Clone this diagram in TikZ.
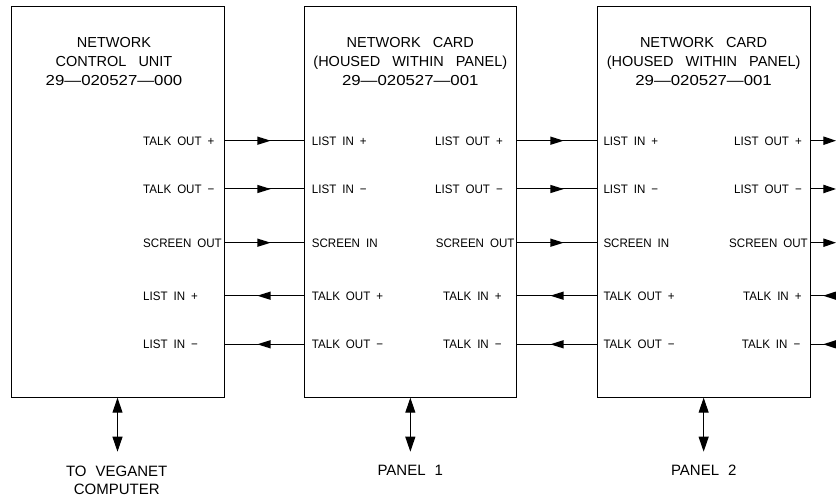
\documentclass[tikz,border=0pt]{standalone}
\usepackage{fontspec}
\setmainfont{Liberation Sans}
\newfontfamily\pinfont[FakeStretch=0.94]{Liberation Sans}
\usepackage{graphicx}
\usetikzlibrary{arrows.meta,decorations.markings}
\newcommand\pnum[1]{\scalebox{1.16}[1]{#1}}
\begin{document}
\begin{tikzpicture}[x=1pt,y=-1pt,
  box/.style={draw, line width=1pt, inner sep=0pt, outer sep=0pt},
  conn/.style={line width=1pt},
  ttl/.style={font={\fontsize{14.5}{19}\selectfont\spaceskip=12pt\relax}, align=center, anchor=base, inner sep=0pt},
  bot/.style={font={\fontsize{15}{17.6}\selectfont\spaceskip=9pt\relax}, align=center, anchor=base, inner sep=0pt},
  pin/.style={font={\pinfont\fontsize{12.3}{14}\selectfont\spaceskip=6pt\relax}, anchor=base west, inner sep=0pt},
  midtip/.style={postaction={decorate}, decoration={markings, mark=at position 0.5 with {\fill (6.7pt,0pt) -- (-6.7pt,4.2pt) -- (-6.7pt,-4.2pt) -- cycle;}}},
  intip/.style={postaction={decorate}, decoration={markings, mark=at position 12.7pt with {\fill (0pt,0pt) -- (-12.7pt,4.2pt) -- (-12.7pt,-4.2pt) -- cycle;}}},
  outtip/.style={-{Triangle[length=12.7pt,width=8.4pt]}},
  both/.style={{Triangle[length=15pt,width=10pt]}-{Triangle[length=15pt,width=10pt]}},
]
\useasboundingbox (0,0) rectangle (836,497);

% boxes
\node[box, minimum width=213pt, minimum height=391pt] (b1) at (117.5,202.2) {};
\node[box, minimum width=212.7pt, minimum height=391pt] (b2) at (410.35,202.2) {};
\node[box, minimum width=212.7pt, minimum height=391pt] (b3) at (703.65,202.2) {};

% rows
\coordinate (r1) at (0,140.7);
\coordinate (r2) at (0,189);
\coordinate (r3) at (0,242.7);
\coordinate (r4) at (0,295.7);
\coordinate (r5) at (0,344.3);
\foreach \i/\yy in {1/140.7,2/189,3/242.7,4/295.7,5/344.3} \coordinate (e\i) at (836,\yy);

% connectors
\foreach \r in {r1,r2,r3} {
  \draw[conn,midtip] (b1.east |- \r) -- (b2.west |- \r);
  \draw[conn,midtip] (b2.east |- \r) -- (b3.west |- \r);
}
\foreach \r in {r4,r5} {
  \draw[conn,midtip] (b2.west |- \r) -- (b1.east |- \r);
  \draw[conn,midtip] (b3.west |- \r) -- (b2.east |- \r);
}
\draw[conn,outtip] (b3.east |- r1) -- (e1);
\draw[conn,outtip] (b3.east |- r2) -- (e2);
\draw[conn,outtip] (b3.east |- r3) -- (e3);
\draw[conn,intip] (e4) -- (b3.east |- r4);
\draw[conn,intip] (e5) -- (b3.east |- r5);

% bottom links
\coordinate (d1) at (117.5,451.7);
\coordinate (d2) at (410.35,451.7);
\coordinate (d3) at (703.65,451.7);
\draw[conn,both] (b1.south) -- (d1);
\draw[conn,both] (b2.south) -- (d2);
\draw[conn,both] (b3.south) -- (d3);

% titles (anchor = baseline of last line)
\node[ttl] (t1) at (114,85.5) {NETWORK\\CONTROL UNIT\\\pnum{29—020527—000}};
\node[ttl] (t2) at (410.3,85.5) {NETWORK CARD\\(HOUSED WITHIN PANEL)\\\pnum{29—020527—001}};
\node[ttl] (t3) at (703.6,85.5) {NETWORK CARD\\(HOUSED WITHIN PANEL)\\\pnum{29—020527—001}};

% box 1 pins
\node[pin] (p11) at (143,145.1) {TALK OUT +};
\node[pin] (p12) at (143,193.4) {TALK OUT −};
\node[pin] (p13) at (143,247.1) {SCREEN OUT};
\node[pin] (p14) at (143,300.1) {LIST IN +};
\node[pin] (p15) at (143,348.7) {LIST IN −};

% box 2 pins
\node[pin] (p21) at (311.7,145.1) {LIST IN +};
\node[pin] (p22) at (311.7,193.4) {LIST IN −};
\node[pin] (p23) at (311.7,247.1) {SCREEN IN};
\node[pin] (p24) at (311.7,300.1) {TALK OUT +};
\node[pin] (p25) at (311.7,348.7) {TALK OUT −};
\node[pin] (q21) at (435,145.1) {LIST OUT +};
\node[pin] (q22) at (435,193.4) {LIST OUT −};
\node[pin] (q23) at (435.7,247.1) {SCREEN OUT};
\node[pin] (q24) at (443,300.1) {TALK IN +};
\node[pin] (q25) at (443,348.7) {TALK IN −};

% box 3 pins
\node[pin] (p31) at (603.3,145.1) {LIST IN +};
\node[pin] (p32) at (603.3,193.4) {LIST IN −};
\node[pin] (p33) at (603.3,247.1) {SCREEN IN};
\node[pin] (p34) at (603.3,300.1) {TALK OUT +};
\node[pin] (p35) at (603.3,348.7) {TALK OUT −};
\node[pin] (q31) at (734,145.1) {LIST OUT +};
\node[pin] (q32) at (734,193.4) {LIST OUT −};
\node[pin] (q33) at (729,247.1) {SCREEN OUT};
\node[pin] (q34) at (743,300.1) {TALK IN +};
\node[pin] (q35) at (741.7,348.7) {TALK IN −};

% bottom labels
\node[bot] (l1) at (116.7,494.3) {TO VEGANET\\COMPUTER};
\node[bot] (l2) at (410.3,475) {PANEL 1};
\node[bot] (l3) at (703.8,475) {PANEL 2};
\end{tikzpicture}
\end{document}
